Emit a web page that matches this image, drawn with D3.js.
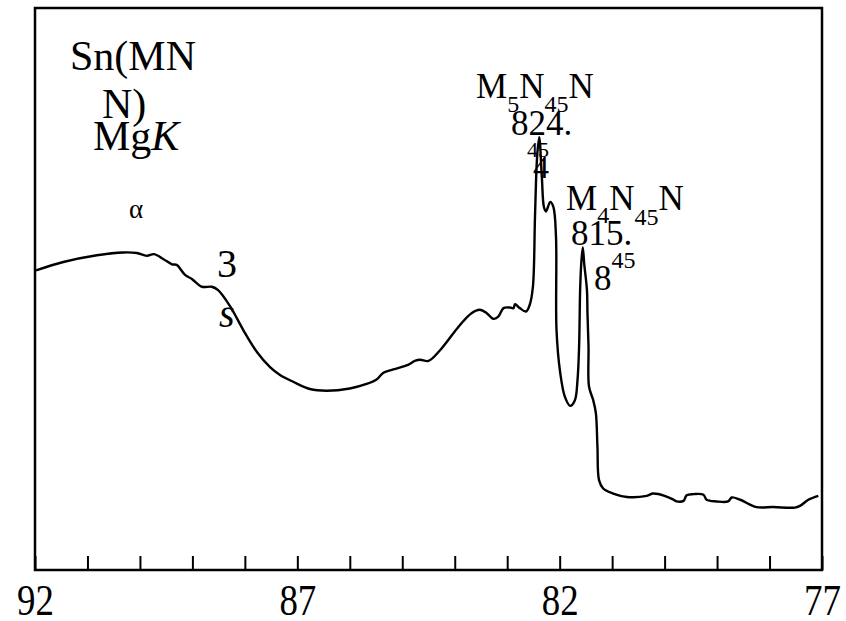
<!DOCTYPE html>
<html>
<head>
<meta charset="utf-8">
<script src="https://cdn.jsdelivr.net/npm/d3@7"></script>
<style>
  body { margin: 0; background: #fff; }
</style>
</head>
<body>
<div id="chart"></div>
<script>
// Spectrum: binding energy (eV) and relative intensity
var energy = [
  91.98, 91.46, 90.82, 90.32, 90.06, 89.87, 89.73, 89.55, 89.39, 89.30,
  89.14, 89.01, 88.82, 88.63, 88.51, 88.28, 88.03, 87.77, 87.52, 87.33,
  87.08, 86.76, 86.44, 86.00, 85.68, 85.49, 85.36, 85.17, 84.89, 84.76,
  84.66, 84.50, 84.28, 83.90, 83.68, 83.52, 83.39, 83.27, 83.17, 83.07,
  82.95, 82.88, 82.85, 82.76, 82.64, 82.57, 82.51, 82.47, 82.43, 82.39,
  82.34, 82.30, 82.26, 82.18, 82.12, 82.07, 82.06, 81.99, 81.90, 81.80,
  81.71, 81.66, 81.63, 81.61, 81.59, 81.56, 81.53, 81.48, 81.47, 81.45,
  81.44, 81.36, 81.31, 81.28, 81.25, 81.17, 80.98, 80.72, 80.34, 80.22,
  80.00, 79.83, 79.77, 79.64, 79.58, 79.45, 79.26, 79.20, 79.01, 78.79,
  78.72, 78.56, 78.25, 77.93, 77.52, 77.42, 77.26, 77.07
];
var intensity = [
  53.3, 54.8, 56.0, 56.5, 56.4, 55.9, 56.2, 55.3, 54.4, 54.3,
  52.5, 51.8, 50.4, 50.4, 49.8, 46.9, 42.7, 38.8, 36.1, 34.7,
  33.5, 32.2, 31.9, 32.3, 33.1, 33.9, 35.1, 35.7, 36.5, 37.2,
  37.4, 37.2, 39.1, 43.6, 45.7, 46.3, 45.7, 44.7, 45.1, 46.6,
  46.7, 46.6, 47.3, 46.6, 46.0, 47.2, 50.4, 62.9, 73.5, 77.0,
  70.0, 64.6, 63.8, 65.5, 64.6, 59.3, 42.7, 35.1, 30.8, 29.2,
  30.2, 33.8, 39.7, 49.8, 54.3, 57.4, 54.3, 49.8, 45.7, 39.7,
  32.6, 30.2, 27.9, 21.9, 16.0, 14.5, 13.6, 13.0, 13.2, 13.6,
  13.2, 12.5, 12.2, 12.3, 13.3, 13.5, 13.4, 12.5, 12.2, 12.2,
  12.9, 12.5, 11.2, 11.2, 11.1, 11.4, 12.5, 13.2
];
var tickValues = d3.range(77, 93);
var labelledTicks = [92, 87, 82, 77];

var width = 846;
var height = 621;
var plotLeft = 35, plotRight = 822, plotTop = 8, plotBottom = 570;
var serif = "'Liberation Serif', 'DejaVu Serif', serif";

var svg = d3.select("#chart").append("svg")
    .attr("width", width)
    .attr("height", height)
    .attr("font-family", serif);

// energy axis runs from high to low
var x = d3.scaleLinear().domain([92, 77]).range([plotLeft, plotRight]);
var y = d3.scaleLinear().domain([0, 100]).range([plotBottom, plotTop]);

// frame
svg.append("rect")
    .attr("x", plotLeft)
    .attr("y", plotTop)
    .attr("width", plotRight - plotLeft)
    .attr("height", plotBottom - plotTop)
    .attr("fill", "none")
    .attr("stroke", "#000")
    .attr("stroke-width", 2.5);

// bottom axis, ticks pointing inward
var axis = svg.append("g")
    .attr("transform", "translate(0," + plotBottom + ")")
    .call(d3.axisBottom(x)
        .tickValues(tickValues)
        .tickSize(-14)
        .tickSizeOuter(0)
        .tickFormat(function(d) { return labelledTicks.indexOf(d) >= 0 ? d : ""; }));

axis.attr("font-family", serif);
axis.select(".domain").remove();
axis.selectAll(".tick line")
    .attr("stroke", "#000")
    .attr("stroke-width", 2);
axis.selectAll(".tick text")
    .attr("y", 45)
    .attr("dy", 0)
    .attr("font-size", 45)
    .attr("fill", "#000")
    .attr("transform", "scale(0.82,1)");

var data = energy.map(function(e, i) { return {e: e, v: intensity[i]}; });

var line = d3.line()
    .x(function(d) { return x(d.e); })
    .y(function(d) { return y(d.v); })
    .curve(d3.curveCatmullRom.alpha(0.5));

svg.append("path")
    .datum(data)
    .attr("fill", "none")
    .attr("stroke", "#000")
    .attr("stroke-width", 2.4)
    .attr("d", line);

// annotations
function label(xp, yp, size, parts) {
    var t = svg.append("text")
        .attr("x", xp)
        .attr("y", yp)
        .attr("font-size", size);
    parts.forEach(function(p) {
        var s = t.append("tspan").text(p.t);
        if (p.size) s.attr("font-size", p.size);
        if (p.dy) s.attr("dy", p.dy);
        if (p.italic) s.attr("font-style", "italic");
    });
    return t;
}

label(70, 70, 42, [{t: "Sn(MN"}]);
label(102, 118, 42, [{t: "N)"}]);
label(93, 150, 42, [{t: "Mg"}, {t: "K", italic: true}]);
label(129, 218, 27, [{t: "α"}]);
label(217, 277, 40, [{t: "3"}]);
label(219, 327, 40, [{t: "s", italic: true}]);

label(476, 98, 35, [{t: "M"}, {t: "5", size: 24, dy: 14}, {t: "N", dy: -14},
                    {t: "45", size: 24, dy: 14}, {t: "N", dy: -14}]);
label(511, 135, 35, [{t: "824."}]);
label(527, 157, 22, [{t: "45"}]);
label(533, 178, 32, [{t: "4"}]);

label(566, 210, 35, [{t: "M"}, {t: "4", size: 24, dy: 13}, {t: "N", dy: -13},
                     {t: "45", size: 24, dy: 15}, {t: "N", dy: -15}]);
label(571, 245, 35, [{t: "815."}]);
label(594, 290, 35, [{t: "8"}, {t: "45", size: 24, dy: -22}]);
</script>
</body>
</html>
